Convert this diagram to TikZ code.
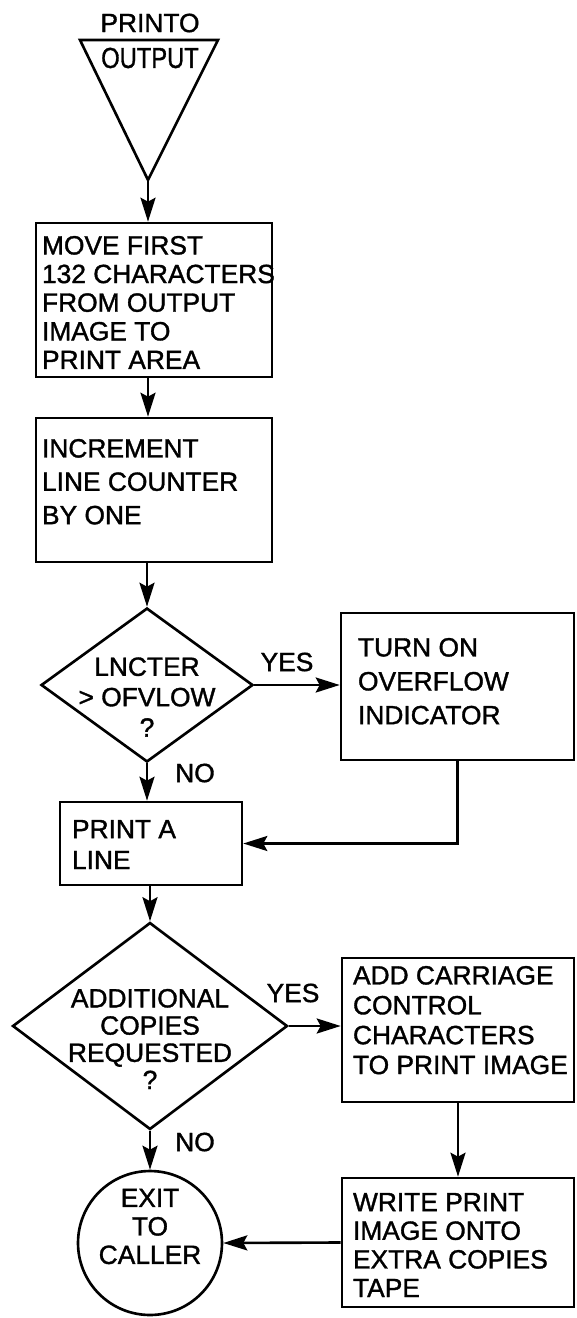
\documentclass[tikz,border=0pt]{standalone}
\usepackage{fontspec}
\setmainfont{Liberation Sans}[FakeBold=1.3]
\usetikzlibrary{shapes.geometric,arrows.meta,calc}
\begin{document}
\begin{tikzpicture}[x=0.02cm,y=-0.02cm,
  line width=1.5pt,
  every node/.style={font=\fontsize{15}{17}\selectfont},
  box/.style={draw, line width=1.5pt, inner sep=0pt, rectangle},
  dia/.style={draw, line width=1.5pt, inner sep=0pt, diamond},
  term/.style={draw, line width=1.5pt, inner sep=0pt, circle},
  txt/.style={anchor=north west, align=left, inner sep=0pt, font=\fontsize{15}{#1}\selectfont},
  ctxt/.style={anchor=center, align=center, inner sep=0pt, font=\fontsize{15}{#1}\selectfont},
  lbl/.style={inner sep=0pt, font=\fontsize{15}{17}\selectfont},
  arr/.style={-{Stealth[length=4.8mm,width=3mm,inset=0.8mm]}, line width=1.5pt}
]
\useasboundingbox (0,0) rectangle (576,1318);

% entry triangle
\coordinate (tl) at (80,40);
\coordinate (tr) at (218,40);
\coordinate (apex) at (148,180);
\draw[line join=miter] (tl) -- (tr) -- (apex) -- cycle;
\node[lbl] (printo) at (150,23) {PRINTO};
\node[lbl] (outp) at (150,58) {\scalebox{0.9}[1.1]{OUTPUT}};

% boxes
\node[box, minimum width=4.72cm, minimum height=3.08cm] (b1) at (154,300) {};
\node[box, minimum width=4.72cm, minimum height=2.88cm] (b2) at (154,490) {};
\node[dia, minimum width=4.24cm, minimum height=3.08cm] (d1) at (147,685) {};
\node[box, minimum width=4.66cm, minimum height=2.94cm] (b3) at (457.5,686.5) {};
\node[box, minimum width=3.64cm, minimum height=1.66cm] (b4) at (151,843.5) {};
\node[dia, minimum width=5.5cm, minimum height=4.14cm] (d2) at (150,1026) {};
\node[box, minimum width=4.64cm, minimum height=2.88cm] (b5) at (458,1030) {};
\node[term, minimum size=2.88cm] (c) at (150,1243) {};
\node[box, minimum width=4.64cm, minimum height=2.58cm] (b6) at (458,1242.5) {};

% texts
\node[txt=16.3pt] (t1) at ($(b1.north west)+(6,13)$) {MOVE FIRST\\132 CHARACTERS\\FROM OUTPUT\\IMAGE TO\\PRINT AREA};
\node[txt=19pt] (t2) at ($(b2.north west)+(6,21)$) {INCREMENT\\LINE COUNTER\\BY ONE};
\node[ctxt=17.3pt] (t3) at (147,697) {LNCTER\\> OFVLOW\\?};
\node[txt=19.3pt] (t4) at ($(b3.north west)+(17,25)$) {TURN ON\\OVERFLOW\\INDICATOR};
\node[txt=17.6pt] (t5) at ($(b4.north west)+(12,18)$) {PRINT A\\LINE};
\node[ctxt=15.5pt] (t6) at (150,1039) {ADDITIONAL\\COPIES\\REQUESTED\\?};
\node[txt=17pt] (t7) at ($(b5.north west)+(11,8)$) {ADD CARRIAGE\\CONTROL\\CHARACTERS\\TO PRINT IMAGE};
\node[ctxt=16.2pt] (t8) at (150,1226.5) {EXIT\\TO\\CALLER};
\node[txt=16.3pt] (t9) at ($(b6.north west)+(11,15)$) {WRITE PRINT\\IMAGE ONTO\\EXTRA COPIES\\TAPE};

% labels
\node[lbl] (yes1) at (287,662) {YES};
\node[lbl] (no1) at (195,773) {NO};
\node[lbl] (yes2) at (293,993) {YES};
\node[lbl] (no2) at (195,1142) {NO};

% connectors
\draw[arr] (apex) -- (apex |- b1.north);
\draw[arr] (b1.south -| apex) -- (b2.north -| apex);
\draw[arr] (b2.south -| d1.north) -- (d1.north);
\draw[arr] (d1.east) -- (d1.east -| b3.west);
\draw[arr] (d1.south) -- (d1.south |- b4.north);
\draw[arr] (b3.south) |- (b4.east);
\draw[arr] (b4.south -| d2.north) -- (d2.north);
\draw[arr] (d2.east) -- (d2.east -| b5.west);
\draw[arr] (d2.south) -- (c.north);
\draw[arr] (b5.south) -- (b6.north);
\draw[arr] (b6.west) -- (c.east);
\end{tikzpicture}
\end{document}
